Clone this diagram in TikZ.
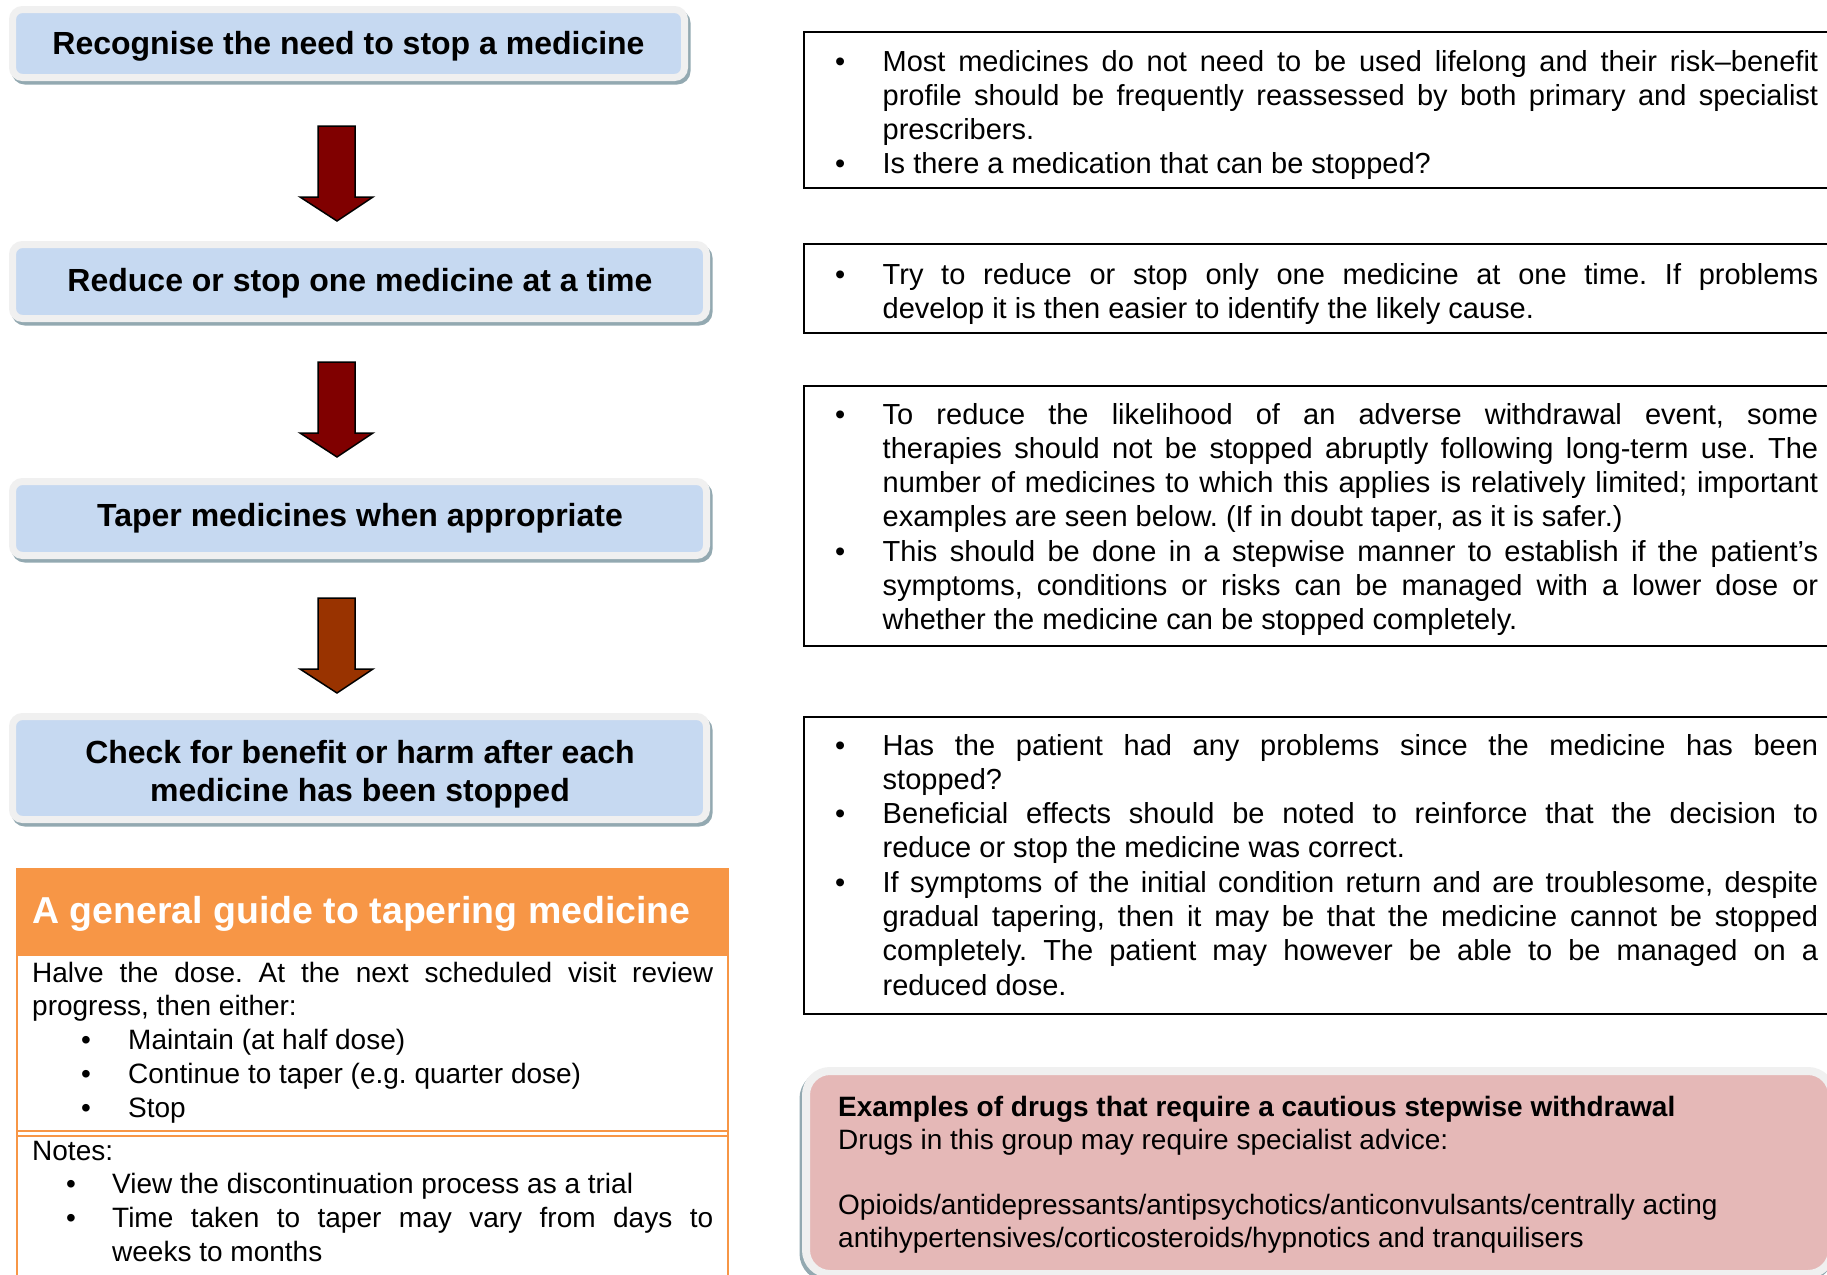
\documentclass[tikz,border=0pt]{standalone}
\usepackage{fontspec}
\setmainfont{Liberation Sans}
\frenchspacing
\definecolor{boxblue}{HTML}{C6D9F1}
\definecolor{rimgray}{HTML}{F0F0F0}
\definecolor{shadowteal}{HTML}{93A9B1}
\definecolor{arrowred}{HTML}{800000}
\definecolor{arrowbrown}{HTML}{993300}
\definecolor{guideorange}{HTML}{F79646}
\definecolor{pinkfill}{HTML}{E5B8B7}
\newcommand{\bfirst}[1]{\hangindent=47.5pt\hangafter=1\noindent\makebox[47.5pt][l]{\textbullet}#1}
\newcommand{\bitem}[1]{\par\hangindent=47.5pt\hangafter=1\noindent\makebox[47.5pt][l]{\textbullet}#1}
\newcommand{\lbitem}[3]{\par\hangindent=#2\hangafter=1\noindent\hspace*{#1}\makebox[\dimexpr#2-#1\relax][l]{\textbullet}#3}
\tikzset{
  stepbox/.style={fill=boxblue, draw=rimgray, line width=7pt, rounded corners=10pt, inner sep=0pt,
    preaction={draw=shadowteal, fill=shadowteal, line width=7pt, transform canvas={shift={(2.5pt,-3.5pt)}}}},
  steptext/.style={inner sep=0pt, align=center, font=\fontsize{32}{38}\selectfont\bfseries},
  pinkbox/.style={fill=pinkfill, draw=rimgray, line width=8pt, rounded corners=24pt, inner sep=0pt,
    preaction={draw=shadowteal, fill=shadowteal, line width=8pt, transform canvas={shift={(-2.5pt,-3.5pt)}}}},
  infobox/.style={draw=black, line width=2pt},
  infotext/.style={anchor=base west, inner sep=0pt, text width=983pt, align=justify,
    font=\fontsize{29}{34.3}\selectfont},
  lefttext/.style={anchor=base west, inner sep=0pt, text width=681pt, align=justify,
    font=\fontsize{28}{33.8}\selectfont},
  blockarrow/.style={draw=black, line width=1.5pt, line join=miter},
}
\begin{document}
\begin{tikzpicture}[x=1pt, y=-1pt]
\useasboundingbox (0,0) rectangle (1827,1274);
\clip (0,0) rectangle (1827,1274);
\fill[white] (0,0) rectangle (1827,1274);

% left flow boxes
\node[stepbox, minimum width=672pt, minimum height=68pt] (b1) at (348.5,43.5) {};
\node[steptext] (t1) at (348.5,46) {Recognise the need to stop a medicine};
\node[stepbox, minimum width=694pt, minimum height=74pt] (b2) at (359.5,281.5) {};
\node[steptext] (t2) at (360,283.5) {Reduce or stop one medicine at a time};
\node[stepbox, minimum width=694pt, minimum height=74pt] (b3) at (359.5,518.5) {};
\node[steptext] (t3) at (360,518.5) {Taper medicines when appropriate};
\node[stepbox, minimum width=694pt, minimum height=103pt] (b4) at (359.5,768) {};
\node[steptext] (t4) at (360,774) {Check for benefit or harm after each\\medicine has been stopped};

% block arrows
\filldraw[blockarrow, fill=arrowred] (318,126) -- (355,126) -- (355,197) -- (373,197) -- (337,221) -- (300,197) -- (318,197) -- cycle;
\filldraw[blockarrow, fill=arrowred] (318,362) -- (355,362) -- (355,433) -- (373,433) -- (337,457) -- (300,433) -- (318,433) -- cycle;
\filldraw[blockarrow, fill=arrowbrown] (318,598) -- (355,598) -- (355,669) -- (373,669) -- (337,693) -- (300,669) -- (318,669) -- cycle;

% orange guide box
\fill[guideorange] (16,868) rectangle (729,956);
\draw[guideorange, line width=2.5pt] (17,868) -- (17,1280);
\draw[guideorange, line width=2.5pt] (728,868) -- (728,1280);
\draw[guideorange, line width=2pt] (17,1131) -- (728,1131);
\draw[guideorange, line width=2pt] (17,1136) -- (728,1136);
\node[anchor=base west, inner sep=0pt, text=white, font=\fontsize{37.5}{42}\selectfont\bfseries] (gh) at (32,923) {A general guide to tapering medicine};
\node[lefttext] (gb) at (32,982) {Halve the dose. At the next scheduled visit review\linebreak progress, then either:
\lbitem{49pt}{96pt}{Maintain (at half dose)}
\lbitem{49pt}{96pt}{Continue to taper (e.g. quarter dose)}
\lbitem{49pt}{96pt}{Stop}\par};
\node[lefttext] (gn) at (32,1160) {Notes:
\lbitem{34pt}{80pt}{View the discontinuation process as a trial}
\lbitem{34pt}{80pt}{Time taken to taper may vary from days to\linebreak weeks to months}\par};

% right info boxes
\draw[infobox] (1840,32) -- (804,32) -- (804,188) -- (1840,188);
\node[infotext] (r1) at (835,71) {\bfirst{Most medicines do not need to be used lifelong and their risk–benefit\linebreak profile should be frequently reassessed by both primary and specialist\linebreak prescribers.}
\bitem{Is there a medication that can be stopped?}\par};

\draw[infobox] (1840,244) -- (804,244) -- (804,333) -- (1840,333);
\node[infotext] (r2) at (835,284) {\bfirst{Try to reduce or stop only one medicine at one time. If problems\linebreak develop it is then easier to identify the likely cause.}\par};

\draw[infobox] (1840,386) -- (804,386) -- (804,646) -- (1840,646);
\node[infotext] (r3) at (835,424) {\bfirst{To reduce the likelihood of an adverse withdrawal event, some\linebreak therapies should not be stopped abruptly following long-term use. The\linebreak number of medicines to which this applies is relatively limited; important\linebreak examples are seen below. (If in doubt taper, as it is safer.)}
\bitem{This should be done in a stepwise manner to establish if the patient’s\linebreak symptoms, conditions or risks can be managed with a lower dose or\linebreak whether the medicine can be stopped completely.}\par};

\draw[infobox] (1840,717) -- (804,717) -- (804,1014) -- (1840,1014);
\node[infotext] (r4) at (835,755) {\bfirst{Has the patient had any problems since the medicine has been\linebreak stopped?}
\bitem{Beneficial effects should be noted to reinforce that the decision to\linebreak reduce or stop the medicine was correct.}
\bitem{If symptoms of the initial condition return and are troublesome, despite\linebreak gradual tapering, then it may be that the medicine cannot be stopped\linebreak completely. The patient may however be able to be managed on a\linebreak reduced dose.}\par};

% pink examples box
\node[pinkbox, minimum width=1026pt, minimum height=203pt] (pk) at (1319,1172.5) {};
\node[anchor=base west, inner sep=0pt, align=left, font=\fontsize{28}{32.6}\selectfont] (pt) at (838,1247) {\textbf{Examples of drugs that require a cautious stepwise withdrawal}\\Drugs in this group may require specialist advice:\\[32.6pt]Opioids/antidepressants/antipsychotics/anticonvulsants/centrally acting\\antihypertensives/corticosteroids/hypnotics and tranquilisers};
\end{tikzpicture}
\end{document}
